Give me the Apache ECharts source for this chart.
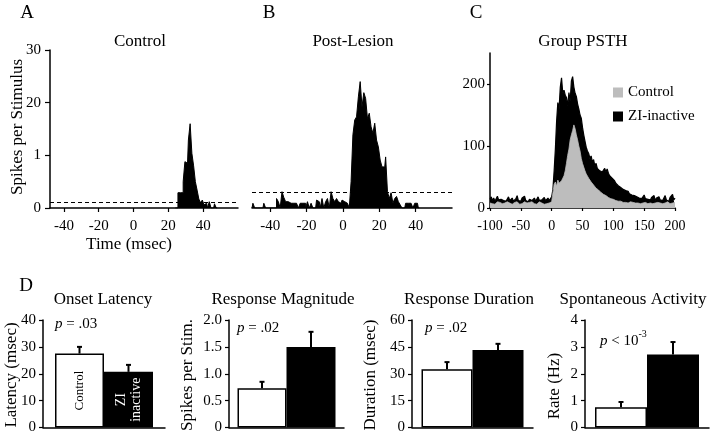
<!DOCTYPE html>
<html><head><meta charset="utf-8">
<script src="https://cdn.jsdelivr.net/npm/echarts@6/dist/echarts.min.js"></script>
<style>html,body{margin:0;padding:0;background:#fff}#c{width:720px;height:435px}</style>
</head><body><div id="c"></div>
<script>
// ---------- Panel A: Control PSTH (1 ms bins) ----------
const aStart = 24;
const aValues = [0,0,2.9,2.9,2.9,5.0,8.8,8.5,12.9,16.0,10.4,8.0,5.0,3.4,1.7,1.0,1.5,0.6,0.9,0,1.2,0,0,0.8,0];
const aThreshold = 1.1;
const aTicks = [-40,-20,0,20,40];
// ---------- Panel B: Post-lesion PSTH (1 ms bins) ----------
const bStart = -50;
const bValues = [
  0,0.9,0,0,0,0,0,0.9,0,0,
  0,0,0,0,1.8,1.2,0,3.1,2.0,1.2,
  1.2,0.9,0.9,0.9,0.9,0.9,0,0.9,0.9,0.9,
  0,1.2,0,0.9,0,0,1.5,1.2,0,1.8,
  0,1.2,1.8,0,3.1,1.8,1.2,1.8,1.2,0.9,
  1.5,1.2,0.9,1.2,0,5.0,13.9,16.7,17.3,21.1,
  24.0,19.2,21.9,20.8,17.0,18.0,15.4,14.2,16.1,12.9,
  11.6,9.1,7.8,7.8,9.7,3.1,1.8,2.9,0.9,1.8,
  2.2,1.2,0.6,0,0,0.9,0.9,0.9,0.9,0,0.9,0.9,0
];
const bThreshold = 3.0;
const bTicks = [-40,-20,0,20,40];
// ---------- Panel C: Group PSTH (2 ms steps from -100) ----------
const cStart = -100, cStep = 2;
const ziInactive = [
  14,18,12,16,11,15,19,13,10,14,
  17,12,15,11,13,18,12,14,16,11,
  13,15,20,12,14,11,16,13,19,12,
  15,10,14,17,12,13,16,11,14,18,
  12,15,13,11,17,12,14,16,12,15,
  18,30,60,95,140,170,160,195,210,185,
  190,182,178,165,186,172,205,212,195,185,
  180,168,160,150,145,130,118,108,98,92,
  88,80,84,74,78,68,72,64,66,60,
  62,58,60,64,58,63,56,52,50,48,
  46,44,40,42,36,38,33,34,30,31,
  28,26,27,23,25,21,23,20,21,18,
  20,16,19,15,17,21,15,18,14,16,
  13,17,15,20,12,16,14,18,13,15,
  12,16,20,13,15,11,17,14,22,13,16
];
const controlPSTH = [
  8,10,7,9,6,8,10,7,9,8,
  7,9,8,6,10,7,8,9,6,8,
  9,7,10,8,6,9,7,8,10,7,
  8,6,9,7,10,8,7,9,6,8,
  10,7,8,9,6,8,7,10,8,9,
  10,25,38,42,35,45,40,38,44,48,
  52,60,72,85,95,110,118,125,134,128,
  118,110,100,92,80,72,66,60,55,52,
  48,45,42,40,37,35,32,31,29,27,
  25,24,22,21,20,18,17,16,15,14,
  14,13,12,12,11,10,11,10,9,10,
  9,10,8,9,10,8,9,7,8,9,
  8,9,7,10,8,6,9,8,7,9,
  8,10,7,9,8,6,9,7,8,10,
  7,9,8,6,10,8,7,9,8,7,9
];
const cYTicks = [0,100,200];
// ---------- Panel D: group means and SEM (Control, ZI inactive) ----------
const groups = ['Control', 'ZI\ninactive'];
const latency = [27.5, 20.7],  latencyErr = [2.5, 2.6];
const magnitude = [0.73, 1.5], magnitudeErr = [0.12, 0.28];
const duration = [32.5, 43.3], durationErr = [4.0, 3.4];
const spontaneous = [0.75, 2.72], spontaneousErr = [0.2, 0.46];

const FF = 'Liberation Serif';
const chart = echarts.init(document.getElementById('c'));

function hist(start, vals){ return vals.map((v,i)=>[start+i, v]); }
function psth(vals){ return vals.map((v,i)=>[cStart+cStep*i, v]); }

const axisLine = {show:true, onZero:false, lineStyle:{color:'#000', width:1.5}};
const tick = (len)=>({show:true, length:len, lineStyle:{color:'#000', width:1.2}});
const lbl = (extra)=>Object.assign({color:'#000', fontFamily:FF, fontSize:15}, extra||{});

const grids = [
  {left:50, top:50, width:188, height:158},
  {left:252, top:50, width:200, height:158},
  {left:490, top:53, width:185, height:155},
  {left:43, top:320, width:122, height:108},
  {left:229, top:320, width:115, height:108},
  {left:412, top:320, width:121, height:108},
  {left:585, top:320, width:124, height:108}
];
const dBarW = [49, 49, 51, 52];

const xAxes = [
  {gridIndex:0, type:'value', min:-48, max:60, axisLine, splitLine:{show:false},
   axisTick:Object.assign(tick(4),{customValues:aTicks}), axisLabel:lbl({margin:11, customValues:aTicks})},
  {gridIndex:1, type:'value', min:-50, max:60, axisLine, splitLine:{show:false},
   axisTick:Object.assign(tick(4),{customValues:bTicks}), axisLabel:lbl({margin:11, customValues:bTicks})},
  {gridIndex:2, type:'value', min:-100, max:200, interval:50, axisLine, splitLine:{show:false},
   axisTick:tick(3), axisLabel:lbl({margin:11, fontSize:14})}
];
const yAxes = [
  {gridIndex:0, type:'value', min:0, max:30, interval:10, axisLine, splitLine:{show:false},
   axisTick:tick(5), axisLabel:lbl({margin:9, formatter:v=> v===10 ? '1' : String(v)})},
  {gridIndex:1, type:'value', min:0, max:30, show:false, splitLine:{show:false}},
  {gridIndex:2, type:'value', min:0, max:250, axisLine, splitLine:{show:false},
   axisTick:Object.assign(tick(3),{customValues:cYTicks}), axisLabel:lbl({margin:5, customValues:cYTicks})}
];
const dScales = [
  {max:40, interval:10, fmt:v=>String(v)},
  {max:2, interval:0.5, fmt:v=> v===0 ? '0' : v.toFixed(1)},
  {max:60, interval:15, fmt:v=>String(v)},
  {max:4, interval:1, fmt:v=>String(v)}
];
dScales.forEach((s,k)=>{
  xAxes.push({gridIndex:3+k, type:'category', data:[''], axisLine, axisTick:{show:false}, axisLabel:{show:false}});
  yAxes.push({gridIndex:3+k, type:'value', min:0, max:s.max, interval:s.interval, axisLine, splitLine:{show:false},
    axisTick:tick(4), axisLabel:lbl({margin:7, formatter:s.fmt})});
});

function errRender(bw){
  return function(params, api){
    const side = api.value(3);
    const p0 = api.coord([api.value(0), api.value(1)]);
    const p1 = api.coord([api.value(0), api.value(2)]);
    const x = p0[0] + side*bw/2;
    return {type:'group', children:[
      {type:'line', shape:{x1:x, y1:p0[1], x2:x, y2:p1[1]}, style:{stroke:'#000', lineWidth:2}},
      {type:'line', shape:{x1:x-2.5, y1:p1[1], x2:x+2.5, y2:p1[1]}, style:{stroke:'#000', lineWidth:2}}
    ]};
  };
}

const series = [
  {name:'A', type:'line', xAxisIndex:0, yAxisIndex:0, step:'middle', showSymbol:false, data:hist(aStart,aValues),
   lineStyle:{color:'#000', width:1}, itemStyle:{color:'#000'}, areaStyle:{color:'#000', opacity:1},
   markLine:{symbol:'none', silent:true, label:{show:false}, lineStyle:{type:[4,3], color:'#000', width:1}, data:[{yAxis:aThreshold}]}},
  {name:'B', type:'line', xAxisIndex:1, yAxisIndex:1, step:'middle', showSymbol:false, data:hist(bStart,bValues),
   lineStyle:{color:'#000', width:1}, itemStyle:{color:'#000'}, areaStyle:{color:'#000', opacity:1},
   markLine:{symbol:'none', silent:true, label:{show:false}, lineStyle:{type:[4,3], color:'#000', width:1}, data:[{yAxis:bThreshold}]}},
  {name:'ZI-inactive', type:'line', xAxisIndex:2, yAxisIndex:2, showSymbol:false, data:psth(ziInactive),
   lineStyle:{color:'#000', width:1.2}, itemStyle:{color:'#000'}, areaStyle:{color:'#000', opacity:1}},
  {name:'Control', type:'line', xAxisIndex:2, yAxisIndex:2, showSymbol:false, data:psth(controlPSTH),
   lineStyle:{color:'#bdbdbd', width:0.8}, itemStyle:{color:'#bdbdbd'}, areaStyle:{color:'#bdbdbd', opacity:1}}
];

const dSets = [[latency,latencyErr],[magnitude,magnitudeErr],[duration,durationErr],[spontaneous,spontaneousErr]];
dSets.forEach((set,k)=>{
  const [m,e] = set; const bw = dBarW[k];
  const withLabels = k===0;
  series.push({name:'D'+k+' '+groups[0], type:'bar', xAxisIndex:3+k, yAxisIndex:3+k, data:[m[0]],
    barWidth:bw, barGap:'0%', itemStyle:{color:'#fff', borderColor:'#000', borderWidth:1.5},
    label:{show:withLabels, position:'inside', rotate:90, formatter:groups[0], color:'#000', fontFamily:FF, fontSize:13}});
  series.push({name:'D'+k+' '+groups[1], type:'bar', xAxisIndex:3+k, yAxisIndex:3+k, data:[m[1]],
    barWidth:bw, barGap:'0%', itemStyle:{color:'#000', borderColor:'#000', borderWidth:1.5},
    label:{show:withLabels, position:'inside', rotate:90, formatter:groups[1], color:'#fff', fontFamily:FF, fontSize:14, lineHeight:15}});
  series.push({name:'D'+k+' err', type:'custom', xAxisIndex:3+k, yAxisIndex:3+k, z:5,
    renderItem:errRender(bw), encode:{x:0, y:[1,2]},
    data:[[0, m[0], m[0]+e[0], -1],[0, m[1], m[1]+e[1], 1]]});
});

function T(x, y, text, size, extra){
  const st = Object.assign({text, fontSize:size, fontFamily:FF, fill:'#000',
    align:'center', verticalAlign:'middle', textAlign:'center', textVerticalAlign:'middle'}, (extra&&extra.style)||{});
  const el = {type:'text', x, y, style:st, silent:true};
  if (extra && extra.rotation) el.rotation = extra.rotation;
  return el;
}
const R = Math.PI/2;
const pRich = {
  i:{fontStyle:'italic', fontFamily:FF, fontSize:15, fill:'#000', color:'#000', lineHeight:20, verticalAlign:'bottom'},
  n:{fontFamily:FF, fontSize:15, fill:'#000', color:'#000', lineHeight:20, verticalAlign:'bottom'},
  s:{fontFamily:FF, fontSize:10, fill:'#000', color:'#000', lineHeight:20, verticalAlign:'top'}
};
const pStyle = (t)=>({style:{text:t, rich:pRich, align:'left', textAlign:'left'}});

const graphic = [
  T(27,13,'A',19), T(269,13,'B',19), T(476,13,'C',19), T(26,286,'D',19),
  T(140,42,'Control',17), T(353,42,'Post-Lesion',17), T(583,42,'Group PSTH',17),
  T(18,127,'Spikes per Stimulus',17,{rotation:R}),
  T(129,245,'Time (msec)',17),
  T(103,300,'Onset Latency',17), T(283,300,'Response Magnitude',17),
  T(469,300,'Response Duration',17), T(633,300,'Spontaneous Activity',17),
  T(12,375,'Latency (msec)',17,{rotation:R}), T(188,375,'Spikes per Stim.',17,{rotation:R}),
  T(371,375,'Duration (msec)',17,{rotation:R}), T(555,386,'Rate (Hz)',17,{rotation:R}),
  T(55,322,'',15,pStyle('{i|p}{n| = .03}')),
  T(237,326,'',15,pStyle('{i|p}{n| = .02}')),
  T(425,326,'',15,pStyle('{i|p}{n| = .02}')),
  T(600,339,'',15,pStyle('{i|p}{n| < 10}{s|-3}'))
];

chart.setOption({
  animation:false,
  backgroundColor:'#fff',
  textStyle:{fontFamily:FF, color:'#000'},
  grid:grids, xAxis:xAxes, yAxis:yAxes, series,
  legend:{orient:'vertical', left:608, top:80, itemWidth:10, itemHeight:10, itemGap:9, selectedMode:false,
    data:[{name:'Control', icon:'rect', itemStyle:{color:'#bdbdbd'}}, {name:'ZI-inactive', icon:'rect', itemStyle:{color:'#000'}}],
    textStyle:{fontFamily:FF, fontSize:15, color:'#000'}},
  graphic
});
</script></body></html>
